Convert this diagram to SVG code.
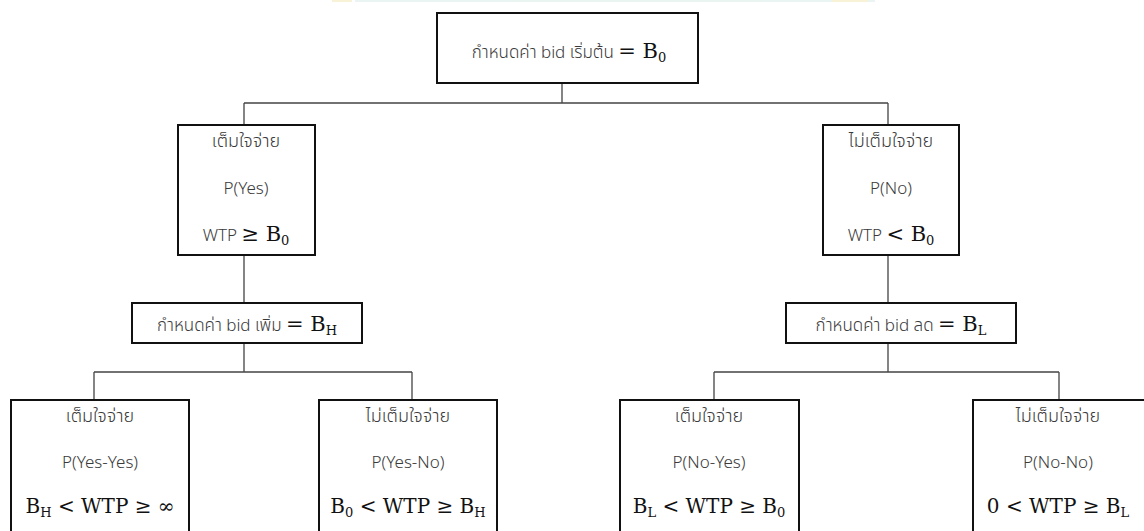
<svg xmlns="http://www.w3.org/2000/svg" width="1144" height="531" viewBox="0 0 1144 531">
<style>
.box{fill:#fff;stroke:#111;stroke-width:2}
.con{stroke:#444;stroke-width:1.3;fill:none}
.th{font-family:"Noto Sans Thai","Leelawadee UI","Noto Sans",sans-serif;font-size:17px;fill:#3a3a3a;text-anchor:middle;font-weight:300}
.lat{font-family:"Noto Sans","Open Sans",sans-serif;font-size:17px;fill:#3a3a3a;text-anchor:middle;font-weight:300}
.m{font-family:"DejaVu Serif","Liberation Serif",serif;font-size:21px;fill:#111}
.mm{font-family:"DejaVu Serif","Liberation Serif",serif;font-size:20px;fill:#111;text-anchor:middle}
.sub{font-size:13px}
</style>
<rect width="1144" height="531" fill="#fff"/>
<g id="topstrip" opacity="0.5">
<rect x="332" y="0" width="20" height="2" fill="#f3e6b0"/>
<rect x="355" y="0" width="520" height="2" fill="#d6ebe6"/>
<rect x="832" y="0" width="36" height="2" fill="#f3e6b0"/>
</g>
<g id="connectors">
<path class="con" d="M562 83V103M244 103H888M244 103V125M888 103V125"/>
<path class="con" d="M244 255V303M888 255V303"/>
<path class="con" d="M244 343V372M94 372H412M94 372V400M412 372V400"/>
<path class="con" d="M888 343V372M714 372H1059M714 372V400M1059 372V400"/>
</g>
<g id="n-start">
<rect class="box" x="437" y="13" width="261" height="70"/>
<text x="569" y="58" class="th">กำหนดค่า bid เริ่มต้น <tspan class="m">= B<tspan class="sub" dy="4">0</tspan></tspan></text>
</g>
<g id="n-yes">
<rect class="box" x="178" y="125" width="137" height="130"/>
<text x="246" y="147" class="th" style="font-size:18px">เต็มใจจ่าย</text>
<text x="246" y="194" class="lat">P(Yes)</text>
<text x="246" y="241" class="lat">WTP <tspan class="m">≥ B<tspan class="sub" dy="4">0</tspan></tspan></text>
</g>
<g id="n-no">
<rect class="box" x="823" y="125" width="136" height="130"/>
<text x="891" y="147" class="th" style="font-size:18px">ไม่เต็มใจจ่าย</text>
<text x="891" y="194" class="lat">P(No)</text>
<text x="891" y="241" class="lat">WTP <tspan class="m">&lt; B<tspan class="sub" dy="4">0</tspan></tspan></text>
</g>
<g id="n-bidup">
<rect class="box" x="132" y="303" width="230" height="40"/>
<text x="247" y="331" class="th">กำหนดค่า bid เพิ่ม <tspan class="m">= B<tspan class="sub" dy="4">H</tspan></tspan></text>
</g>
<g id="n-biddown">
<rect class="box" x="786" y="303" width="230" height="40"/>
<text x="901" y="331" class="th">กำหนดค่า bid ลด <tspan class="m">= B<tspan class="sub" dy="4">L</tspan></tspan></text>
</g>
<g id="n-yy">
<rect class="box" x="11" y="400" width="178" height="140"/>
<text x="100" y="422" class="th" style="font-size:18px">เต็มใจจ่าย</text>
<text x="100" y="468" class="lat">P(Yes-Yes)</text>
<text x="100" y="513" class="mm">B<tspan class="sub" dy="4">H</tspan><tspan dy="-4"> &lt; WTP ≥ ∞</tspan></text>
</g>
<g id="n-yn">
<rect class="box" x="319" y="400" width="178" height="140"/>
<text x="408" y="422" class="th" style="font-size:18px">ไม่เต็มใจจ่าย</text>
<text x="408" y="468" class="lat">P(Yes-No)</text>
<text x="408" y="513" class="mm">B<tspan class="sub" dy="4">0</tspan><tspan dy="-4"> &lt; WTP ≥ B</tspan><tspan class="sub" dy="4">H</tspan></text>
</g>
<g id="n-ny">
<rect class="box" x="620" y="400" width="179" height="140"/>
<text x="709" y="422" class="th" style="font-size:18px">เต็มใจจ่าย</text>
<text x="709" y="468" class="lat">P(No-Yes)</text>
<text x="709" y="513" class="mm">B<tspan class="sub" dy="4">L</tspan><tspan dy="-4"> &lt; WTP ≥ B</tspan><tspan class="sub" dy="4">0</tspan></text>
</g>
<g id="n-nn">
<rect class="box" x="973" y="400" width="190" height="140"/>
<text x="1058" y="422" class="th" style="font-size:18px">ไม่เต็มใจจ่าย</text>
<text x="1058" y="468" class="lat">P(No-No)</text>
<text x="1058" y="513" class="mm">0 &lt; WTP ≥ B<tspan class="sub" dy="4">L</tspan></text>
</g>
</svg>
